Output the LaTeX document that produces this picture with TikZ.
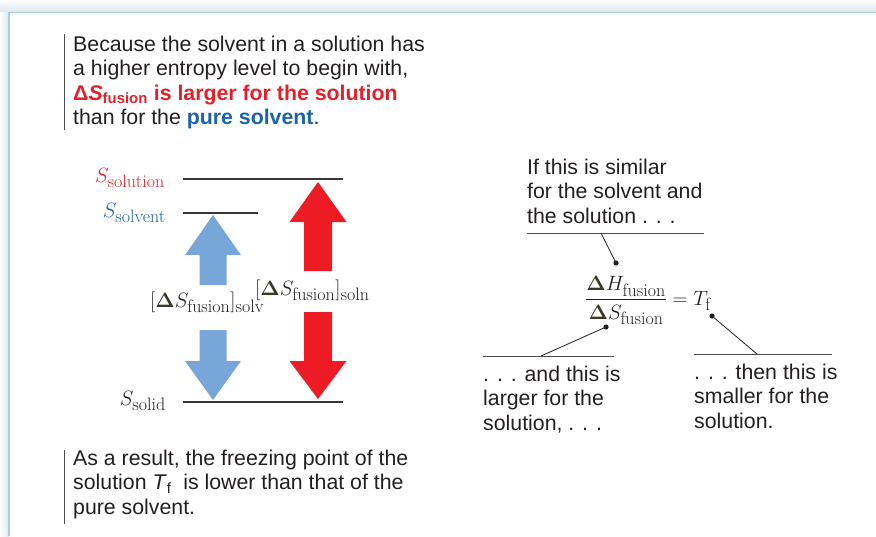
\documentclass[tikz,border=0pt]{standalone}
\usepackage{amsmath}
\usepackage{fontspec}
\setsansfont{Liberation Sans}
\usetikzlibrary{positioning}

\definecolor{inkgray}{HTML}{231F20}
\definecolor{rulegray}{HTML}{4D4D4D}
\definecolor{solnred}{HTML}{E3202A}
\definecolor{arrowred}{HTML}{ED1C24}
\definecolor{solvblue}{HTML}{1C63A8}
\definecolor{arrowblue}{HTML}{79A6D8}
\definecolor{framebl}{HTML}{A9CBEA}
\definecolor{shadowbl}{HTML}{DCE6F2}
\definecolor{deltaolive}{HTML}{3A3A26}

\newcommand{\bDelta}{\textcolor{deltaolive}{\boldsymbol{\Delta}}}
\newcommand{\fsub}[1]{\mbox{\fontsize{18}{20}\selectfont #1}}

\begin{document}
\begin{tikzpicture}[x=1pt, y=-1pt,
	bodytext/.style={font=\sffamily\fontsize{21.3}{24.5}\selectfont, text=inkgray, align=left, inner sep=0pt, anchor=north west},
	mathlabel/.style={font=\fontsize{22}{26}\selectfont, text=inkgray, inner sep=0pt},
	level/.style={line width=2pt, draw=inkgray!90},
	leader/.style={line width=0.8pt, draw=inkgray},
	annorule/.style={line width=1pt, draw=rulegray},
	sidebar/.style={line width=1pt, draw=rulegray},
	dot/.style={fill=inkgray}]
	\useasboundingbox (0,0) rectangle (876,536);
	% frame with its soft shadow
	\shade[top color=white, bottom color=shadowbl] (0,0) rectangle (876,12);
	\shade[left color=white, right color=shadowbl] (0,12) rectangle (9,536);
	\draw[framebl, line width=1.5pt] (9,536) -- (9,12.5) -- (876,12.5);

	% top note
	\draw[sidebar] (64,34) -- (64,130);
	\node[bodytext] (topnote) at (73,35.5) {Because the solvent in a solution has\\
		a higher entropy level to begin with,\\
		{\bfseries\color{solnred}Δ\textit{S}\textsubscript{fusion} is larger for the solution}\\
		than for the {\bfseries\color{solvblue}pure solvent}.};

	% entropy levels
	\draw[level] (183,179) -- (343,179);
	\draw[level] (183,213) -- (258,213);
	\draw[level] (183,402) -- (343,402);
	\node[mathlabel, anchor=base east, text=solnred] (ssoln) at (165,182) {$S_{\fsub{solution}}$};
	\node[mathlabel, anchor=base east, text=solvblue] (ssolv) at (166,217) {$S_{\fsub{solvent}}$};
	\node[mathlabel, anchor=base east] (ssolid) at (166,405) {$S_{\fsub{solid}}$};

	% fat arrows
	\fill[arrowblue] (213,215) -- (241,255) -- (226.5,255) -- (226.5,285) -- (199.5,285) -- (199.5,255) -- (185,255) -- cycle;
	\fill[arrowblue] (213,400) -- (241,361) -- (226.5,361) -- (226.5,330) -- (199.5,330) -- (199.5,361) -- (185,361) -- cycle;
	\fill[arrowred] (318,182) -- (346.5,222) -- (332,222) -- (332,271) -- (304,271) -- (304,222) -- (289.5,222) -- cycle;
	\fill[arrowred] (318,399) -- (346.5,361) -- (332,361) -- (332,312) -- (304,312) -- (304,361) -- (289.5,361) -- cycle;
	\node[mathlabel, anchor=base west] (dsolv) at (150,307) {$[\bDelta S_{\fsub{fusion}}]_{\fsub{solv}}$};
	\node[mathlabel, anchor=base west] (dsoln) at (255,295) {$[\bDelta S_{\fsub{fusion}}]_{\fsub{soln}}$};

	% bottom note
	\draw[sidebar] (64,450) -- (64,524);
	\node[bodytext] (botnote) at (73,449.5) {As a result, the freezing point of the\\
		solution \textit{T}\textsubscript{f} \ is lower than that of the\\
		pure solvent.};

	% relation and its notes
	\node[mathlabel, anchor=base west] (ratio) at (585,305) {$\dfrac{\bDelta H_{\fsub{fusion}}}{\bDelta S_{\fsub{fusion}}} = T_{\fsub{f}}$};
	\coordinate (dotH) at (616,263);
	\coordinate (dotS) at (606,327);
	\coordinate (dotT) at (712,316);

	\node[bodytext] (topanno) at (527,158.5) {If this is similar\\ for the solvent and\\ the solution . . .};
	\draw[annorule] (527,233) -- (704,233);
	\coordinate (topfoot) at (601,233);
	\draw[leader] (topfoot) -- (dotH);

	\draw[annorule] (483,356) -- (614,356);
	\coordinate (leftfoot) at (541,356);
	\draw[leader] (leftfoot) -- (dotS);
	\node[bodytext] (leftanno) at (483,365.5) {. . . and this is\\ larger for the\\ solution, . . .};

	\draw[annorule] (694,354) -- (832,354);
	\coordinate (rightfoot) at (757,354);
	\draw[leader] (rightfoot) -- (dotT);
	\node[bodytext] (rightanno) at (694,363.5) {. . . then this is\\ smaller for the\\ solution.};

	\foreach \d in {dotH, dotS, dotT}
		\fill[dot] (\d) circle (2.6);
\end{tikzpicture}
\end{document}
